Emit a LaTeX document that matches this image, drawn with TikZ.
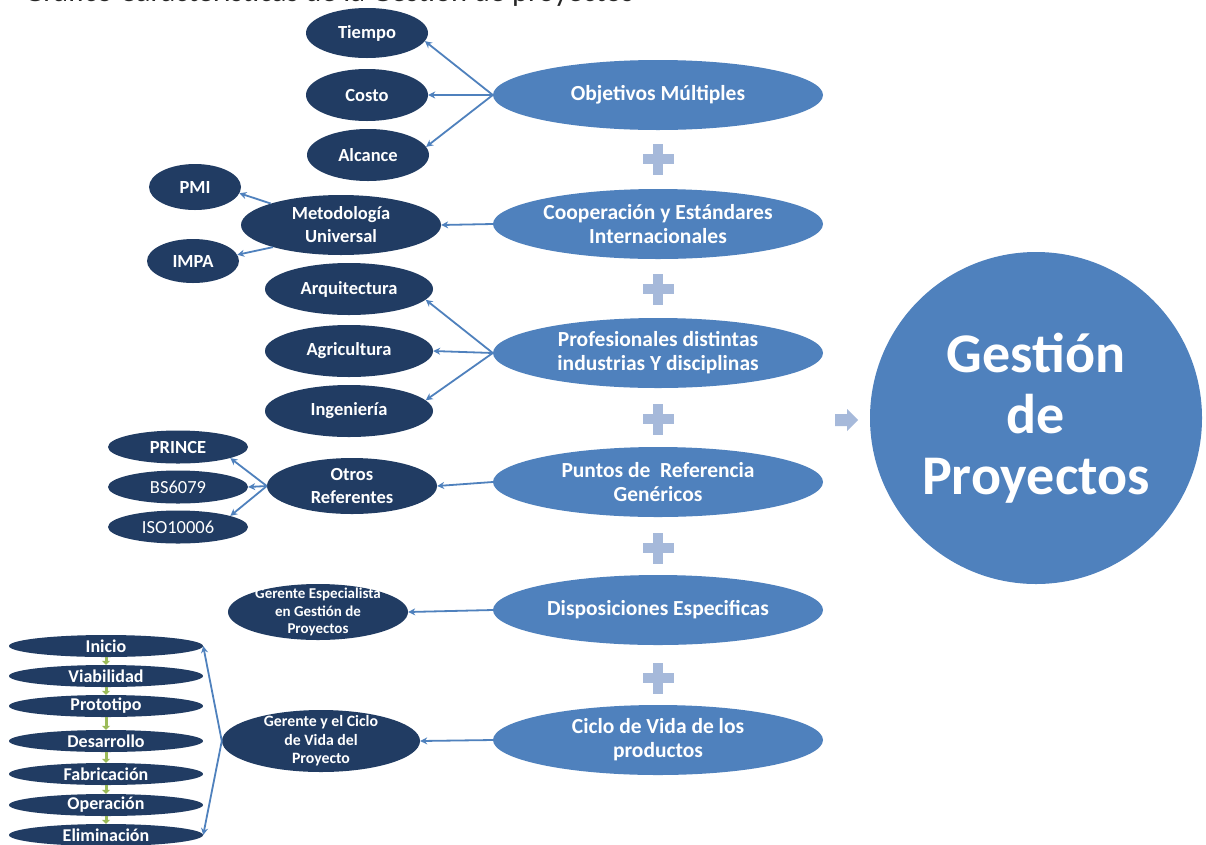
\documentclass[tikz,border=0pt]{standalone}
\usepackage{fontspec}
\setmainfont{Carlito}
\usetikzlibrary{shapes.geometric,arrows.meta}

\definecolor{mainblue}{HTML}{4F81BD}
\definecolor{navy}{HTML}{213C63}
\definecolor{plusblue}{HTML}{A6B9DA}
\definecolor{stagegreen}{HTML}{9BBB59}
\definecolor{titlegray}{HTML}{262626}

\tikzset{
  mainov/.style={ellipse, fill=mainblue, minimum width=330, minimum height=70, inner sep=0},
  darkov/.style={ellipse, fill=navy, inner sep=0},
  stageov/.style={ellipse, fill=navy, minimum width=194, minimum height=22, inner sep=0},
  mtxt/.style={text=white, font=\bfseries\fontsize{21.5}{24}\selectfont, align=center, inner sep=0},
  dtxt/.style={text=white, font=\bfseries\fontsize{18.5}{23}\selectfont, align=center, inner sep=0},
  rtxt/.style={text=white, font=\fontsize{18.5}{23}\selectfont, align=center, inner sep=0},
  gtxt/.style={text=white, font=\bfseries\fontsize{18}{20}\selectfont, align=center, inner sep=0},
  link/.style={draw=mainblue, line width=1.8, -{Stealth[length=7,width=7]}},
  steplink/.style={draw=stagegreen, line width=3, -{Triangle[length=4,width=8]}},
  plusmark/.pic={
    \fill[plusblue] (-15.5,-5) rectangle (15.5,5);
    \fill[plusblue] (-5,-15.5) rectangle (5,15.5);
  },
}

\begin{document}
\begin{tikzpicture}[x=1pt,y=-1pt]
\useasboundingbox (0,0) rectangle (1206,844);
\fill[white] (0,0) rectangle (1206,844);
\clip (0,0) rectangle (1206,844);

% heading line, trimmed by the top edge
\node[anchor=base west, inner sep=0, text=titlegray, font=\fontsize{30.5}{34}\selectfont]
  (title) at (24,1.5) {Gráfico Características de la Gestión de proyectos};

% central column
\node[mainov, label={[mtxt]center:Objetivos Múltiples}] (obj) at (658,95) {};
\node[mainov, label={[mtxt]center:{Cooperación y Estándares\\Internacionales}}] (coop) at (658,224) {};
\node[mainov, label={[mtxt]center:{Profesionales distintas\\industrias Y disciplinas}}] (prof) at (658,353) {};
\node[mainov, label={[mtxt]center:{Puntos de~ Referencia\\Genéricos}}] (punt) at (658,482) {};
\node[mainov, label={[mtxt]center:Disposiciones Especificas}] (disp) at (658,610) {};
\node[mainov, label={[mtxt]center:{Ciclo de Vida de los\\productos}}] (ciclo) at (658,740) {};

\foreach \py in {159,289,419,548,678} \pic at (658,\py) {plusmark};

% block arrow and result circle
\fill[plusblue] (835,414) -- (847,414) -- (847,409) -- (858,420) -- (847,431) -- (847,426) -- (835,426) -- cycle;
\node[circle, fill=mainblue, minimum size=332, inner sep=0,
  label={[text=white, font=\bfseries\fontsize{56}{61}\selectfont, align=center, inner sep=0]center:{Gestión\\de\\Proyectos}}]
  (gp) at (1036,418) {};

% objectives
\node[darkov, minimum width=122, minimum height=50, label={[dtxt]center:Tiempo}] (tiempo) at (367,33) {};
\node[darkov, minimum width=122, minimum height=52, label={[dtxt]center:Costo}] (costo) at (367,95) {};
\node[darkov, minimum width=122, minimum height=52, label={[dtxt]center:Alcance}] (alcance) at (368,155) {};

% methodology
\node[darkov, minimum width=200, minimum height=60, label={[dtxt]center:{Metodología\\Universal}}] (meto) at (341,225) {};
\node[darkov, minimum width=92, minimum height=46, label={[dtxt]center:PMI}] (pmi) at (195,187) {};
\node[darkov, minimum width=92, minimum height=44, label={[dtxt]center:IMPA}] (impa) at (193,261) {};

% disciplines
\node[darkov, minimum width=168, minimum height=52, label={[dtxt]center:Arquitectura}] (arq) at (349,289) {};
\node[darkov, minimum width=168, minimum height=52, label={[dtxt]center:Agricultura}] (agr) at (349,351) {};
\node[darkov, minimum width=168, minimum height=52, label={[dtxt]center:Ingeniería}] (ing) at (349,411) {};

% references
\node[darkov, minimum width=170, minimum height=56, label={[dtxt]center:{Otros\\Referentes}}] (otros) at (352,486) {};
\node[darkov, minimum width=140, minimum height=33, label={[dtxt]center:PRINCE}] (prince) at (178,447) {};
\node[darkov, minimum width=140, minimum height=33, label={[rtxt]center:BS6079}] (bs) at (178,487) {};
\node[darkov, minimum width=140, minimum height=33, label={[rtxt]center:ISO10006}] (iso) at (178,527) {};

% managers
\node[darkov, minimum width=180, minimum height=56,
  label={[text=white, font=\bfseries\fontsize{15}{17.5}\selectfont, align=center, inner sep=0]center:{Gerente Especialista\\en Gestión de\\Proyectos}}]
  (geresp) at (318,612) {};
\node[darkov, minimum width=198, minimum height=62,
  label={[text=white, font=\bfseries\fontsize{15.8}{18.5}\selectfont, align=center, inner sep=0]center:{Gerente y el Ciclo\\de Vida del\\Proyecto}}]
  (gerciclo) at (321,741) {};

% life-cycle stages
\node[stageov, label={[gtxt]center:Inicio}] (s1) at (106,646) {};
\node[stageov, label={[gtxt]center:Viabilidad}] (s2) at (106,676) {};
\node[stageov, label={[gtxt]center:Prototipo}] (s3) at (106,706) {};
\node[stageov, label={[gtxt]center:Desarrollo}] (s4) at (106,741) {};
\node[stageov, label={[gtxt]center:Fabricación}] (s5) at (106,774) {};
\node[stageov, label={[gtxt]center:Operación}] (s6) at (106,805) {};
\node[stageov, label={[gtxt]center:Eliminación}] (s7) at (106,835) {};

\foreach \a/\b in {s1/s2,s2/s3,s3/s4,s4/s5,s5/s6,s6/s7}
  \draw[steplink] (\a.south) -- (\b.north);

% connectors
\draw[link] (obj.west) -- (tiempo.-8);
\draw[link] (obj.west) -- (costo.east);
\draw[link] (obj.west) -- (alcance.8);
\draw[link] (coop.west) -- (meto.east);
\draw[link] (meto.163) -- (pmi.-8);
\draw[link] (meto.198) -- (impa.8);
\draw[link] (prof.west) -- (arq.-8);
\draw[link] (prof.west) -- (agr.east);
\draw[link] (prof.west) -- (ing.8);
\draw[link] (punt.west) -- (otros.east);
\draw[link] (otros.west) -- (prince.-12);
\draw[link] (otros.west) -- (bs.east);
\draw[link] (otros.west) -- (iso.12);
\draw[link] (disp.west) -- (geresp.east);
\draw[link] (ciclo.west) -- (gerciclo.east);
\draw[link] (gerciclo.west) -- (s1.east);
\draw[link] (gerciclo.west) -- (s7.east);
\end{tikzpicture}
\end{document}
